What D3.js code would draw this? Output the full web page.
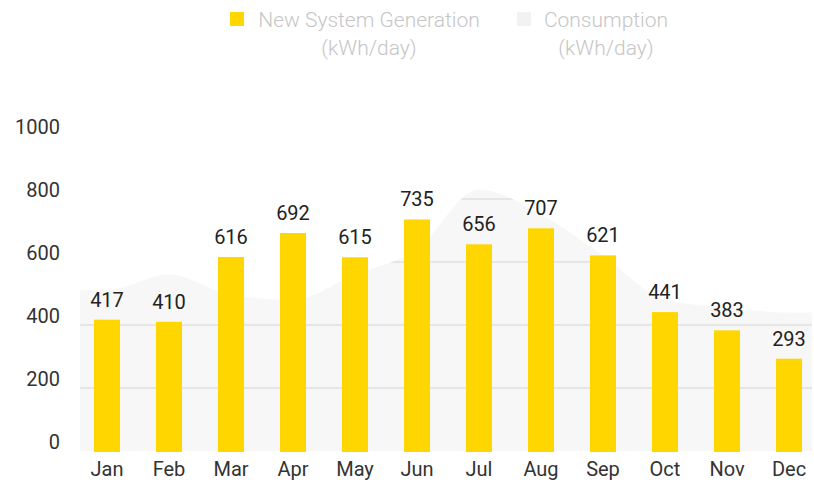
<!DOCTYPE html>
<html><head><meta charset="utf-8">
<script src="https://cdn.jsdelivr.net/npm/d3@7"></script>
<style>body{margin:0;background:#fff;font-family:Roboto,sans-serif}</style>
</head><body><svg id="c" width="814" height="482"></svg>
<script>
const months = ["Jan","Feb","Mar","Apr","May","Jun","Jul","Aug","Sep","Oct","Nov","Dec"];
const generation = [417,410,616,692,615,735,656,707,621,441,383,293];
const consumption = [510,560,495,480,560,640,830,750,620,480,455,440];
const yTicks = [0,200,400,600,800,1000];
const legendLabels = ["New System Generation","Consumption"];
const legendUnit = "(kWh/day)";

const svg = d3.select("#c");
const x = d3.scaleBand().domain(months).range([76,820]).paddingInner(0.58).paddingOuter(0.29);
const y = d3.scaleLinear().domain([0,1000]).range([451,136]);
const cx = m => x(m) + x.bandwidth()/2;

// consumption area
const pts = months.map((m,i)=>[cx(m), consumption[i]]);
const ext = [[80, consumption[0]], ...pts, [812, consumption[11]]];
const area = d3.area().x(d=>d[0]).y0(y(0)).y1(d=>y(d[1])).curve(d3.curveMonotoneX);
svg.append("defs").append("clipPath").attr("id","ac").append("path").attr("d", area(ext));
svg.append("path").attr("d", area(ext)).attr("fill","#f7f7f7");

// gridlines (visible inside area)
svg.append("g").attr("clip-path","url(#ac)").selectAll("line").data(yTicks.filter(t=>t>0)).join("line")
  .attr("x1",76).attr("x2",820).attr("y1",d=>y(d)).attr("y2",d=>y(d))
  .attr("stroke","#e6e6e6").attr("stroke-width",2);

// y axis labels
const yAxis = d3.axisLeft(y).tickValues(yTicks).tickFormat(d3.format("d")).tickSize(0).tickPadding(0);
const ya = svg.append("g").attr("transform","translate(60,-9)").call(yAxis);
ya.select(".domain").remove();
ya.selectAll("text").attr("font-family","Roboto").attr("font-size",20).attr("fill","#333");

// bars
svg.selectAll("rect.bar").data(generation).join("rect").attr("class","bar")
  .attr("x",(d,i)=>x(months[i])).attr("width",x.bandwidth())
  .attr("y",d=>y(d)).attr("height",d=>y(0)-y(d)+1).attr("fill","#FFD600");

// value labels
svg.selectAll("text.val").data(generation).join("text").attr("class","val")
  .attr("x",(d,i)=>cx(months[i])).attr("y",d=>y(d)-13)
  .attr("text-anchor","middle").attr("font-size",20).attr("fill","#222").text(d=>d);

// x axis
const xAxis = d3.axisBottom(x).tickSize(0).tickPadding(0);
const xa = svg.append("g").attr("transform","translate(0,462)").call(xAxis);
xa.select(".domain").remove();
xa.selectAll("text").attr("font-family","Roboto").attr("font-size",20).attr("fill","#333");

// legend
const leg = [{c:"#FFD600",x:230,tc:369},{c:"#f2f2f2",x:517,tc:606}];
leg.forEach((l,i)=>{
  svg.append("rect").attr("x",l.x).attr("y",12).attr("width",14).attr("height",14).attr("fill",l.c);
  svg.append("text").attr("x",l.tc).attr("y",27).attr("text-anchor","middle")
    .attr("font-size",21).attr("font-weight",300).attr("fill","#c6c6c6").text(legendLabels[i]);
  svg.append("text").attr("x",l.tc).attr("y",55).attr("text-anchor","middle")
    .attr("font-size",21).attr("font-weight",300).attr("fill","#c6c6c6").text(legendUnit);
});
</script></body></html>
